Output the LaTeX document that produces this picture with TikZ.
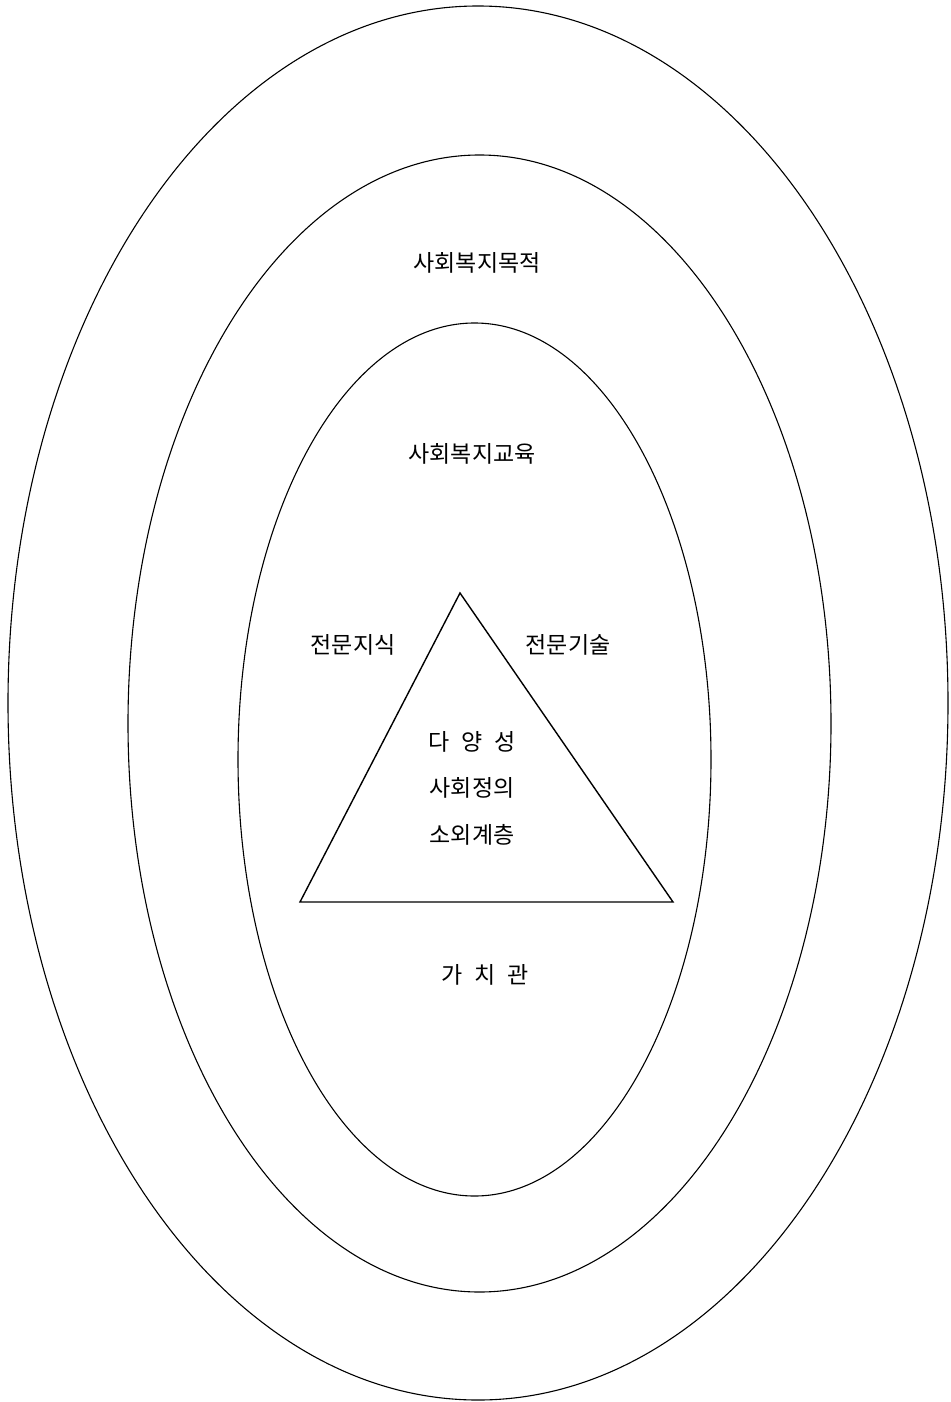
\documentclass[tikz,border=0pt]{standalone}
\usepackage{fontspec}
\newfontfamily\kr{Noto Sans CJK KR}
\tikzset{
  ring/.style={draw=black, line width=1.1pt},
  tri/.style={draw=black, line width=1.4pt, line join=miter},
  lbl/.style={font=\kr\fontsize{23}{28}\selectfont, inner sep=0pt, anchor=center}
}
\newcommand{\gap}{\hspace{0.5em}}
\begin{document}
\begin{tikzpicture}[x=1pt, y=-1pt]
\useasboundingbox[fill=white] (0,0) rectangle (950,1402);
% ellipses
\draw[ring] (478,703) ellipse [x radius=470pt, y radius=697pt];
\draw[ring] (479.5,723.5) ellipse [x radius=351.5pt, y radius=568.5pt];
\draw[ring] (474.5,759.5) ellipse [x radius=236.5pt, y radius=436.5pt];
% triangle
\coordinate (apex) at (460,593);
\coordinate (bl) at (300,902);
\coordinate (br) at (673,902);
\draw[tri] (apex) -- (bl) -- (br) -- cycle;
% labels
\node[lbl] (goal) at (477,263) {사회복지목적};
\node[lbl] (edu) at (472,454) {사회복지교육};
\node[lbl] (know) at (353,645) {전문지식};
\node[lbl] (skill) at (568,645) {전문기술};
\node[lbl] (div) at (472,742) {다\gap 양\gap 성};
\node[lbl] (just) at (472,788) {사회정의};
\node[lbl] (marg) at (472,835) {소외계층};
\node[lbl] (val) at (485,975) {가\gap 치\gap 관};
\end{tikzpicture}
\end{document}
